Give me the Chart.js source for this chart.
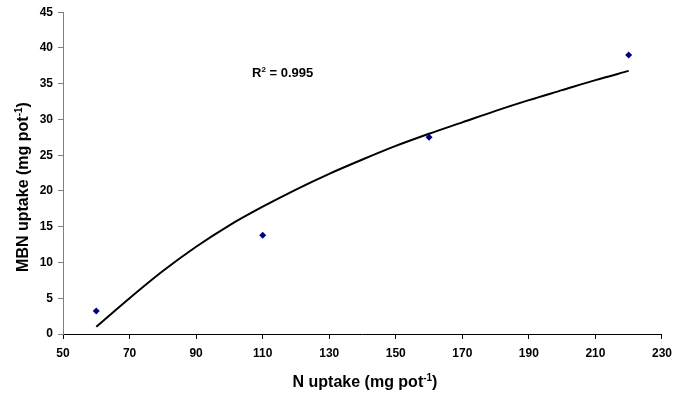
<!DOCTYPE html>
<html>
<head>
<meta charset="utf-8">
<script src="https://cdn.jsdelivr.net/npm/chart.js@4.4.0/dist/chart.umd.min.js"></script>
<style>
html, body { margin: 0; padding: 0; background: #fff; }
#wrap { width: 679px; height: 396px; }
</style>
</head>
<body>
<div id="wrap"><canvas id="chart" width="679" height="396"></canvas></div>
<script>
// measured points
const nUptake = [60, 110, 160, 220];
const mbnUptake = [3.2, 13.8, 27.5, 39.0];

// trend line
const trendX = [60, 70, 80, 90, 100, 110, 120, 130, 140, 150, 160, 170, 180, 190, 200, 210, 220];
const trendY = [1.0, 5.0, 8.8, 12.2, 15.2, 17.8, 20.2, 22.4, 24.4, 26.3, 28.0, 29.6, 31.2, 32.7, 34.1, 35.5, 36.8];

// axis ticks
const xTicks = [50, 70, 90, 110, 130, 150, 170, 190, 210, 230];
const yTicks = [0, 5, 10, 15, 20, 25, 30, 35, 40, 45];

// texts: [base, superscript, tail]
const xTitle = ['N uptake (mg pot', '-1', ')'];
const yTitle = ['MBN uptake (mg pot', '-1', ')'];
const rSquared = ['R', '2', ' = 0.995'];

const FONT = '"Liberation Sans", Arial, sans-serif';

function toPoints(xs, ys) {
    return xs.map((x, i) => ({ x: x, y: ys[i] }));
}

// draws text with one superscript part, centred on x unless align is 'left'
function drawSup(ctx, parts, x, y, size, align) {
    const big = `bold ${size}px ${FONT}`;
    const small = `bold ${Math.round(size * 0.62)}px ${FONT}`;
    ctx.font = big;
    const w1 = ctx.measureText(parts[0]).width;
    const w3 = ctx.measureText(parts[2]).width;
    ctx.font = small;
    const w2 = ctx.measureText(parts[1]).width;
    let cx = align === 'left' ? x : x - (w1 + w2 + w3) / 2;
    ctx.textAlign = 'left';
    ctx.textBaseline = 'alphabetic';
    ctx.fillStyle = '#000';
    ctx.font = big;
    ctx.fillText(parts[0], cx, y);
    cx += w1;
    ctx.font = small;
    ctx.fillText(parts[1], cx, y - size * 0.4);
    cx += w2;
    ctx.font = big;
    ctx.fillText(parts[2], cx, y);
}

const textPlugin = {
    id: 'texts',
    afterDraw(chart) {
        const ctx = chart.ctx;
        ctx.save();
        drawSup(ctx, xTitle, 365, 387, 16);
        ctx.translate(22, 187);
        ctx.rotate(-Math.PI / 2);
        drawSup(ctx, yTitle, 0, 6, 16);
        ctx.restore();
        ctx.save();
        drawSup(ctx, rSquared, 252, 77, 13, 'left');
        ctx.restore();
    }
};

const tickFont = { family: FONT, size: 12, weight: 'bold' };

new Chart(document.getElementById('chart'), {
    type: 'scatter',
    data: {
        datasets: [{
            label: 'MBN uptake',
            data: toPoints(nUptake, mbnUptake),
            pointStyle: 'rectRot',
            pointRadius: 3.5,
            pointBackgroundColor: '#000080',
            pointBorderColor: '#000080',
            pointBorderWidth: 0,
            order: 0
        }, {
            label: 'Trend',
            data: toPoints(trendX, trendY),
            showLine: true,
            borderColor: '#000',
            borderWidth: 2,
            pointRadius: 0,
            cubicInterpolationMode: 'monotone',
            order: 1
        }]
    },
    options: {
        responsive: false,
        animation: false,
        devicePixelRatio: 1,
        layout: { padding: { top: 12, right: 12, left: 0, bottom: 0 } },
        plugins: {
            legend: { display: false },
            tooltip: { enabled: false }
        },
        scales: {
            x: {
                type: 'linear',
                min: xTicks[0],
                max: xTicks[xTicks.length - 1],
                afterBuildTicks: (axis) => { axis.ticks = xTicks.map(v => ({ value: v })); },
                afterFit: (axis) => { axis.height = 62; },
                ticks: { font: tickFont, color: '#000', padding: 7, maxRotation: 0 },
                grid: { drawOnChartArea: false, tickLength: 5, color: '#000' },
                border: { color: '#000', width: 1 }
            },
            y: {
                min: yTicks[0],
                max: yTicks[yTicks.length - 1],
                afterBuildTicks: (axis) => { axis.ticks = yTicks.map(v => ({ value: v })); },
                afterFit: (axis) => { axis.width = 63; },
                ticks: { font: tickFont, color: '#000', padding: 5 },
                grid: { drawOnChartArea: false, tickLength: 5, color: '#808080' },
                border: { color: '#808080', width: 1 }
            }
        }
    },
    plugins: [textPlugin]
});
</script>
</body>
</html>
